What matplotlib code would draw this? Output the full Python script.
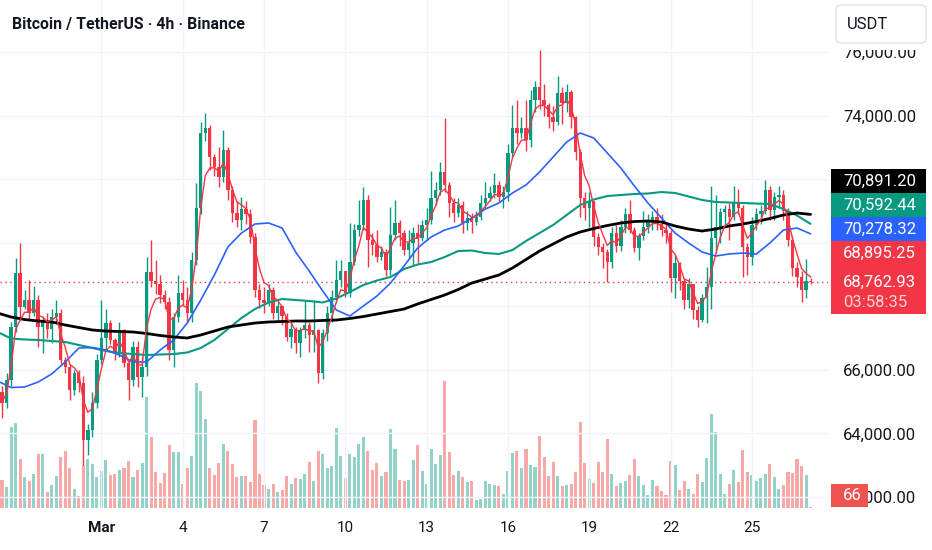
import numpy as np
import matplotlib
matplotlib.use("Agg")
import matplotlib.pyplot as plt
from matplotlib.patches import Rectangle, FancyBboxPatch

plt.rcParams['font.family'] = ['Roboto', 'DejaVu Sans']

# ---------------- data ----------------
TITLE = "Bitcoin / TetherUS · 4h · Binance"
QUOTE = "USDT"
first_candle = -22          # number of 4h candles before Mar 1, 00:00 (negative = before)
candles_per_day = 6
first_open = 65300

closes = [
    64950, 65680, 67350, 69050, 67980, 68200, 67790, 68200, 67350, 67570,
    67300, 67660, 67800, 66310, 66090, 65370, 65900, 65590, 63790, 64100,
    64960, 66310, 67000, 67470, 66940, 66530, 67250, 66220, 65680, 66720,
    65780, 66100, 69080, 68800, 68700, 68350, 68130, 66625, 67660, 68420,
    68200, 67790, 69460, 71090, 73450, 73600, 72700, 72380, 72070, 72916,
    71660, 70930, 70700, 71050, 70900, 70180, 68510, 68200, 68100, 68510,
    67790, 68000, 67700, 67030, 67300, 66840, 67250, 67400, 67100, 67250,
    65900, 67160, 67790, 68290, 68830, 69100, 68420, 69390, 70400, 70557,
    71340, 70085, 69930, 69550, 69700, 69140, 70240, 70620, 70300, 69770,
    70000, 70300, 70150, 70550, 70715, 71400, 71660, 72220, 71815, 71250,
    70930, 71200, 70620, 70780, 70650, 70800, 71250, 71400, 71560, 71820,
    71450, 71600, 72820, 73600, 73450, 73600, 73230, 74490, 74900, 74490,
    74330, 73950, 73800, 74700, 74400, 74750, 73950, 72850, 71400, 71090,
    71300, 70180, 69870, 69700, 69390, 70300, 69900, 70500, 70900, 70400,
    69830, 70200, 70500, 70700, 70800, 70600, 70400, 70300, 68890, 69360,
    68800, 68200, 68700, 67880, 67570, 68250, 68600, 70150, 70500, 70970,
    71050, 70800, 71280, 71100, 69865, 69550, 70550, 70900, 71000, 71650,
    71030, 71440, 71500, 71000, 70085, 69200, 68920, 68510, 68800, 68762.93,
]
highs = [
    65500, 65900, 67500, 69520, 70000, 68500, 68820, 68650, 68350, 67700,
    67800, 67900, 68200, 67900, 66400, 66150, 66000, 66000, 65800, 64300,
    65300, 66500, 68200, 67900, 67570, 67000, 67500, 67300, 66300, 66900,
    66900, 66400, 69550, 70085, 69450, 69000, 68500, 68300, 67800, 68980,
    68820, 68600, 69700, 71880, 73800, 74080, 73700, 72800, 73000, 73540,
    73000, 71800, 71300, 71440, 71300, 71050, 70300, 68700, 68600, 68700,
    68600, 68150, 68000, 67800, 67500, 67350, 67350, 68200, 67500, 68200,
    67300, 67300, 68000, 68500, 69455, 69455, 69100, 70620, 70600, 71340,
    71750, 71500, 70300, 70400, 69900, 69800, 71120, 71340, 70700, 70400,
    70400, 70500, 70600, 70700, 71100, 72260, 71900, 72540, 73920, 71900,
    71400, 71400, 71300, 71000, 70950, 71000, 71500, 71900, 71800, 72200,
    71950, 71800, 73100, 74330, 74490, 73950, 74490, 74800, 75100, 76060,
    75000, 74400, 74300, 75250, 74900, 75000, 74800, 74000, 72940, 71600,
    71600, 71300, 70300, 70000, 69800, 70500, 70550, 70700, 71100, 71340,
    70500, 70300, 71000, 70900, 71000, 71100, 70900, 70600, 70400, 69600,
    69400, 68900, 68900, 68700, 68000, 68400, 69240, 71800, 71500, 71100,
    71200, 71250, 71800, 71700, 71200, 70000, 70800, 71100, 71200, 71970,
    71800, 71600, 71800, 71650, 71100, 70200, 69400, 69100, 69500, 68900,
]
lows = [
    64500, 64800, 65500, 67200, 67570, 67900, 67600, 67700, 66720, 66530,
    67000, 66840, 67500, 66200, 65900, 65050, 65200, 65300, 63000, 63320,
    63900, 64800, 66200, 66600, 66800, 66300, 66400, 66100, 65050, 65500,
    65460, 65150, 65800, 68600, 68400, 68100, 67900, 66310, 66090, 67500,
    68000, 67500, 67500, 69300, 70900, 73200, 72300, 72100, 71750, 71900,
    71340, 70650, 70500, 70400, 70600, 70000, 68300, 67950, 67800, 68000,
    67600, 67500, 67400, 66900, 66700, 66530, 66400, 67000, 66560, 66560,
    65590, 65700, 66900, 67500, 68100, 68600, 68300, 68300, 69300, 70200,
    70400, 69240, 69600, 69400, 69450, 68950, 69000, 70100, 69900, 69600,
    69500, 69300, 69360, 70050, 70100, 70600, 71200, 71500, 71600, 70800,
    70650, 70800, 70300, 70400, 70300, 70550, 70700, 71100, 71300, 71400,
    71300, 71100, 71300, 72700, 73100, 73300, 72900, 73000, 74100, 74200,
    74000, 73600, 73500, 73700, 73750, 74100, 73600, 72600, 70800, 70700,
    70500, 69900, 69600, 69200, 68760, 69200, 69700, 69750, 70300, 70300,
    69700, 69450, 70100, 70300, 70400, 70400, 70200, 70000, 68450, 68260,
    68500, 67900, 67950, 67600, 67350, 67500, 67470, 67900, 69680, 70000,
    70550, 70085, 70700, 70900, 68920, 69000, 69300, 70400, 70600, 70900,
    70700, 70700, 71100, 70700, 69900, 68950, 68600, 68130, 68260, 68700,
]
volumes = [
    1826, 1386, 5346, 5610, 3212, 2046, 1760, 2244, 3542, 3542,
    1034, 1496, 2090, 3366, 3740, 2618, 1232, 770, 2816, 3212,
    2926, 2046, 2442, 3190, 2200, 2222, 2486, 2662, 3102, 2024,
    2486, 2970, 7326, 4664, 2354, 1650, 2288, 4136, 3718, 3718,
    1562, 2618, 3454, 8228, 7722, 5896, 2618, 2156, 2970, 4246,
    3784, 2926, 2024, 2112, 2112, 1694, 5786, 2266, 1496, 1232,
    1606, 1056, 1210, 2090, 1606, 1980, 1936, 2244, 3058, 1760,
    3762, 3542, 2618, 2794, 5302, 3410, 1980, 3586, 3366, 4246,
    4708, 3740, 2486, 2992, 2112, 2398, 5236, 3916, 1870, 1782,
    1870, 3146, 4136, 2464, 1606, 3916, 2882, 3476, 8360, 3696,
    2200, 2420, 2024, 1716, 1760, 506, 616, 1804, 1606, 1496,
    1430, 902, 2442, 3608, 3740, 2618, 3916, 2838, 2684, 4730,
    3388, 2112, 3058, 2090, 1474, 1540, 1584, 2376, 5698, 2948,
    1892, 1672, 3058, 2354, 4554, 2222, 1452, 1650, 1804, 2156,
    3212, 2112, 1518, 858, 1848, 1430, 1144, 836, 3124, 2838,
    1210, 1782, 1276, 924, 2222, 1738, 3278, 6226, 4994, 2222,
    902, 1562, 2530, 1694, 3806, 2398, 2156, 1760, 1958, 2222,
    2882, 2046, 1276, 1496, 2354, 2288, 3234, 2772, 2200, 66,
]

# moving averages (read every 3rd candle, starting one candle left of the view)
ma_first_candle = -23
ma_step = 3
ma_slow = [
    67789, 67663, 67584, 67537, 67506, 67411, 67332, 67254, 67222, 67207,
    67191, 67144, 67081, 67034, 67002, 67097, 67222, 67348, 67411, 67474,
    67506, 67521, 67537, 67537, 67553, 67568, 67616, 67678, 67757, 67836,
    67914, 68072, 68213, 68355, 68528, 68732, 68858, 68984, 69204, 69472,
    69739, 69959, 70180, 70337, 70447, 70541, 70620, 70667, 70683, 70652,
    70526, 70431, 70368, 70431, 70526, 70589, 70667, 70762, 70872, 70935,
    70891.20,
]
ma_mid = [
    67191, 66986, 66955, 66939, 66908, 66876, 66782, 66688, 66593, 66530,
    66499, 66467, 66483, 66499, 66546, 66688, 66939, 67285, 67631, 67914,
    68119, 68229, 68198, 68166, 68119, 68245, 68449, 68670, 68811, 68921,
    69173, 69314, 69393, 69550, 69739, 69755, 69676, 69645, 69771, 70054,
    70305, 70557, 70872, 71186, 71359, 71469, 71501, 71532, 71548, 71595,
    71564, 71454, 71344, 71281, 71265, 71249, 71233, 71218, 71060, 70856,
    70592.44,
]
ma_fast = [
    65649, 65445, 65461, 65618, 65870, 66247, 66688, 66703, 66625, 66467,
    66247, 66247, 66625, 66939, 67474, 68198, 68984, 69865, 70305, 70589,
    70620, 70463, 69708, 69110, 68481, 67883, 67694, 68009, 68323, 68732,
    69267, 69834, 70180, 70400, 70526, 70777, 71060, 71249, 71564, 71815,
    72225, 72696, 73168, 73451, 73294, 72822, 72350, 71784, 71249, 70777,
    70305, 69991, 69708, 69582, 69645, 69676, 69645, 69991, 70400, 70463,
    70278.32,
]
ema_period = 4
ema_seed = 65000

tick_days = [1, 4, 7, 10, 13, 16, 19, 22, 25]
tick_labels = ["Mar", "4", "7", "10", "13", "16", "19", "22", "25"]
price_ticks = [62000, 64000, 66000, 68000, 70000, 72000, 74000, 76000]

last_price = 68762.93
countdown = "03:58:35"
ma_label_values = [70891.20, 70592.44, 70278.32, 68895.25]   # black, green, blue, red

# ---------------- style ----------------
UP, DOWN = '#089981', '#f23645'
BLUE = '#2962ff'
VOL_UP, VOL_DOWN = '#92d2c8', '#f7a9a7'
TXT = '#131722'
GRID = '#f0f3fa'

W, H = 932, 550
PLOT_R, PLOT_B = 828, 508
fig = plt.figure(figsize=(W / 100, H / 100), dpi=100)
fig.patch.set_facecolor('white')
rect = [0, (H - PLOT_B) / H, PLOT_R / W, PLOT_B / H]
axv = fig.add_axes(rect)
ax = fig.add_axes(rect, sharex=axv)
ax.set_zorder(2)
ax.patch.set_visible(False)

n = len(closes)
idx = np.arange(first_candle, first_candle + n)
c = np.array(closes, float)
o = np.concatenate([[first_open], c[:-1]])
hi = np.maximum(np.array(highs, float), np.maximum(o, c))
lo = np.minimum(np.array(lows, float), np.minimum(o, c))
rising = c >= o
cols = np.where(rising, UP, DOWN)

# volume (overlay at bottom)
axv.bar(idx, volumes, width=0.68, color=np.where(rising, VOL_UP, VOL_DOWN), linewidth=0)
axv.set_ylim(0, max(volumes) * 4.01)
axv.axis('off')

# grid
day_idx = [(d - 1) * candles_per_day for d in tick_days]
for p in price_ticks:
    ax.axhline(p, color=GRID, lw=1, zorder=0)
for xd in day_idx:
    ax.axvline(xd, color=GRID, lw=1, zorder=0)

# candles
ax.vlines(idx, lo, hi, colors=cols, lw=1.0, zorder=3)
body = np.maximum(np.abs(c - o), 35)
ax.bar(idx, body, bottom=np.minimum(o, c), width=0.74, color=cols, linewidth=0, zorder=4)

# moving averages
mx = ma_first_candle + ma_step * np.arange(len(ma_slow))
ax.plot(mx, ma_mid, color=UP, lw=1.5, zorder=5, solid_capstyle='round')
ax.plot(mx, ma_fast, color=BLUE, lw=1.2, zorder=5, solid_capstyle='round')
ax.plot(mx, ma_slow, color='black', lw=2.0, zorder=5, solid_capstyle='round')
alpha = 2.0 / (ema_period + 1)
ema = []
e = ema_seed
for v in c:
    e = e + alpha * (v - e)
    ema.append(e)
ax.plot(idx, ema, color=DOWN, lw=1.0, zorder=6)

# last price line
ax.axhline(last_price, color=DOWN, lw=1.0, ls=(0, (1, 2.5)), zorder=2)

ax.set_xlim(-22.45, 160.86)
ax.set_ylim(61654, 77636)
for s in ax.spines.values():
    s.set_visible(False)
ax.yaxis.tick_right()
ax.set_yticks(price_ticks, [f"{p:,.2f}" for p in price_ticks])
ax.tick_params(axis='y', length=0, pad=11, labelsize=12, labelcolor=TXT)
ax.set_xticks(day_idx, tick_labels)
ax.tick_params(axis='x', length=0, pad=9, labelsize=11, labelcolor=TXT)
ax.get_xticklabels()[0].set_fontweight('bold')

# ---------------- overlay (pixel coords) ----------------
ov = fig.add_axes([0, 0, 1, 1])
ov.set_xlim(0, W)
ov.set_ylim(H, 0)
ov.axis('off')
ov.set_zorder(5)


def ypx(axis, v):
    return H - axis.transData.transform((0, v))[1]


# white band + currency box on the top of the price scale
ov.add_patch(Rectangle((PLOT_R + 1, 0), W - PLOT_R, 50, fc='white', ec='none'))
ov.add_patch(FancyBboxPatch((836, 5), 90, 38, boxstyle='round,pad=0,rounding_size=5',
                            fc='white', ec='#e0e3eb', lw=1))
ov.text(847, 24.5, QUOTE, fontsize=12, va='center', ha='left', color=TXT)

title = ov.text(12, 24, TITLE, fontsize=12.5, fontweight='bold', color=TXT,
                va='center', ha='left')

BX0, BW, LH = 831, 95, 24
TX = 843
spans = []
py = ypx(ax, last_price)
top = py - 17
ov.add_patch(Rectangle((BX0, top), BW, 49, fc=DOWN, ec='none'))
spans.append((top, top + 49))
ov.text(TX, top + 17, f"{last_price:,.2f}", color='white', fontsize=12, va='center')
ov.text(TX, top + 37, countdown, color='#fcd3d8', fontsize=12, va='center')

entries = sorted(zip(ma_label_values, ['black', UP, BLUE, DOWN]), key=lambda t: t[0])
for val, colr in entries:
    t0 = ypx(ax, val) - LH / 2
    if t0 + LH > top:
        t0 = top - LH
    ov.add_patch(Rectangle((BX0, t0), BW, LH, fc=colr, ec='none'))
    ov.text(TX, t0 + LH / 2, f"{val:,.2f}", color='white', fontsize=12, va='center')
    spans.append((t0, t0 + LH))
    top = t0

# price-scale labels fully hidden under the value boxes are not drawn
for p, lab in zip(price_ticks, ax.get_yticklabels()):
    yy = ypx(ax, p)
    if any(a - 4 <= yy <= b + 4 for a, b in spans):
        lab.set_visible(False)

# current volume label
vy = ypx(axv, volumes[-1])
vtop = min(vy - 11.5, PLOT_B - 24)
ov.add_patch(Rectangle((BX0, vtop), 37, 23, fc='#ef5350', ec='none'))
ov.text(TX, vtop + 11.5, f"{volumes[-1]}", color='white', fontsize=12, va='center')

# fit title width
fig.canvas.draw()
r = fig.canvas.get_renderer()
bb = title.get_window_extent(r)
title.set_fontsize(title.get_fontsize() * 233.0 / bb.width)

fig.savefig('out.png', dpi=100)
